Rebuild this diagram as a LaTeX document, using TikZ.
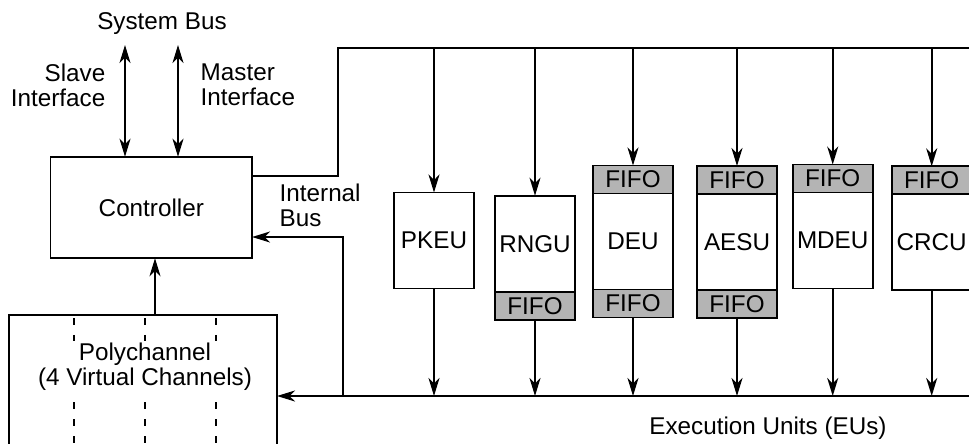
\documentclass[tikz,border=0pt]{standalone}
\usepackage{fontspec}
\setmainfont{Liberation Sans}
\usetikzlibrary{arrows.meta,positioning}
\definecolor{fifogray}{HTML}{B4B4B4}

\begin{document}
\begin{tikzpicture}[
      x=0.02cm,y=-0.02cm,
      line width=1pt,
      >={Stealth[length=0.36cm,width=0.22cm,inset=0.11cm]},
      font=\fontsize{13.8}{14.2}\selectfont,
      unit/.style={rectangle,draw,fill=white,outer sep=0pt,inner sep=1pt,
                   minimum width=1.6cm,minimum height=1.92cm},
      fifo/.style={rectangle,draw,fill=fifogray,outer sep=0pt,inner sep=0pt,
                   minimum width=1.6cm,minimum height=0.56cm},
      chan/.style={line width=0.7pt,dash pattern=on 4pt off 5.6pt}
    ]

    \clip (0,0) rectangle (969,443);

    % controller and system bus
    \node[draw,outer sep=0pt,minimum width=4.03cm,minimum height=2.03cm]
          (ctrl) at (151.3,207.5) {Controller};
    \node (sysbus) at (162,24) {System Bus};
    \coordinate (slv) at (125,45);
    \coordinate (mst) at (178,45);
    \node[align=right,anchor=east] (slvtxt) at (112,85) {Slave\\Interface};
    \node[align=left,anchor=west]  (msttxt) at (194,85) {Master\\Interface};

    % polychannel
    \node[draw,outer sep=0pt,minimum width=5.36cm,minimum height=3.24cm]
          (polybox) at (143,396) {};
    \draw[chan] (74,318)  -- (74,443);
    \draw[chan] (145,318) -- (145,443);
    \draw[chan] (216,318) -- (216,443);
    \node[fill=white,align=center,inner sep=1pt] (poly) at (145,367)
          {Polychannel\\(4 Virtual Channels)};
    \coordinate (pup) at (155,315);

    % execution units
    \node[unit] (pkeu) at (434,240.5) {PKEU};

    \node[unit] (rngu) at (535,243.7) {RNGU};
    \node[fifo,below=0pt of rngu] (rngufo) {FIFO};

    \node[unit] (deu) at (633,241.5) {DEU};
    \node[fifo,above=0pt of deu] (deufi) {FIFO};
    \node[fifo,below=0pt of deu] (deufo) {FIFO};

    \node[unit] (aesu) at (737,242) {AESU};
    \node[fifo,above=0pt of aesu] (aesufi) {FIFO};
    \node[fifo,below=0pt of aesu] (aesufo) {FIFO};

    \node[unit] (mdeu) at (832.7,240.5) {MDEU};
    \node[fifo,above=0pt of mdeu] (mdeufi) {FIFO};

    \node[unit] (crcu) at (931.7,242.3) {CRCU};
    \node[fifo,above=0pt of crcu] (crcufi) {FIFO};

    % labels
    \node[align=left,anchor=west] (ibus) at (273,205) {Internal\\Bus};
    \node (eus) at (768,428) {Execution Units (EUs)};

    % bus corners
    \coordinate (cout) at (0,176);
    \coordinate (tl)   at (338,48);
    \coordinate (tr)   at (975,48);
    \coordinate (bl)   at (343,396);
    \coordinate (br)   at (975,396);
    \coordinate (ibin) at (0,237);

    % arrows
    \draw[<->] (slv) -- (slv |- ctrl.north);
    \draw[<->] (mst) -- (mst |- ctrl.north);
    \draw[->]  (pup) -- (pup |- ctrl.south);
    \draw      (ctrl.east |- cout) -| (tl) -- (tr);
    \draw[->]  (br) -- (polybox.east);
    \draw[->]  (bl) |- (ctrl.east |- ibin);

    \draw[->] (pkeu.north |- tl)   -- (pkeu.north);
    \draw[->] (rngu.north |- tl)   -- (rngu.north);
    \draw[->] (deufi.north |- tl)  -- (deufi.north);
    \draw[->] (aesufi.north |- tl) -- (aesufi.north);
    \draw[->] (mdeufi.north |- tl) -- (mdeufi.north);
    \draw[->] (crcufi.north |- tl) -- (crcufi.north);

    \draw[->] (pkeu.south)   -- (pkeu.south |- bl);
    \draw[->] (rngufo.south) -- (rngufo.south |- bl);
    \draw[->] (deufo.south)  -- (deufo.south |- bl);
    \draw[->] (aesufo.south) -- (aesufo.south |- bl);
    \draw[->] (mdeu.south)   -- (mdeu.south |- bl);
    \draw[->] (crcu.south)   -- (crcu.south |- bl);

  \end{tikzpicture}
\end{document}
